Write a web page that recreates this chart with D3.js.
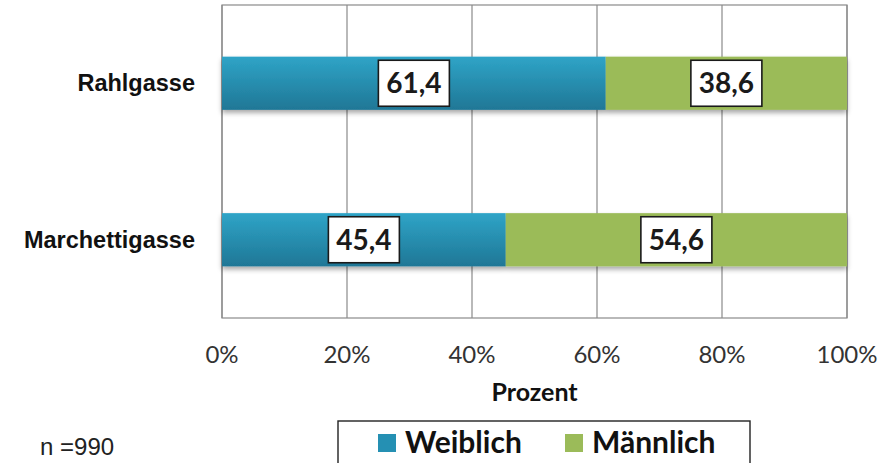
<!DOCTYPE html>
<html><head><meta charset="utf-8">
<script src="https://cdn.jsdelivr.net/npm/d3@7"></script>
<style>body{margin:0;background:#fff}svg{display:block}</style>
</head><body>
<svg id="c" width="895" height="463"></svg>
<script>
const categories = ["Rahlgasse", "Marchettigasse"];
const seriesNames = ["Weiblich", "Männlich"];
const weiblich = [61.4, 45.4];
const maennlich = [38.6, 54.6];
const xTicks = [0, 20, 40, 60, 80, 100];
const nLabel = "n =990";
const axisTitle = "Prozent";

const svg = d3.select("#c");
const W = 895, H = 463;
const m = {left: 222, right: 48, top: 5, bottom: 145};
const x = d3.scaleLinear().domain([0, 100]).range([m.left, W - m.right]);
const y = d3.scaleBand().domain(categories).range([m.top, H - m.bottom]).paddingInner(0.66).paddingOuter(0.33);

const defs = svg.append("defs");
const g1 = defs.append("linearGradient").attr("id", "gBlue").attr("x1", 0).attr("y1", 0).attr("x2", 0).attr("y2", 1);
g1.append("stop").attr("offset", "0%").attr("stop-color", "#2fa4c7");
g1.append("stop").attr("offset", "100%").attr("stop-color", "#1f7796");
const f = defs.append("filter").attr("id", "sh").attr("x", "-5%").attr("y", "-20%").attr("width", "110%").attr("height", "160%");
f.append("feDropShadow").attr("dx", 0).attr("dy", 3).attr("stdDeviation", 2.5).attr("flood-color", "#000").attr("flood-opacity", 0.35);

// grid
svg.append("g").selectAll("line").data(xTicks).join("line")
  .attr("x1", d => x(d)).attr("x2", d => x(d))
  .attr("y1", m.top).attr("y2", H - m.bottom)
  .attr("stroke", "#8a8a8a").attr("stroke-width", 1.2);
svg.append("rect").attr("x", x(0)).attr("y", m.top).attr("width", x(100) - x(0)).attr("height", H - m.bottom - m.top)
  .attr("fill", "none").attr("stroke", "#8a8a8a").attr("stroke-width", 1.2);

const stacked = categories.map((c, i) => ({c, segs: [
  {s: 0, x0: 0, x1: weiblich[i], v: weiblich[i]},
  {s: 1, x0: weiblich[i], x1: weiblich[i] + maennlich[i], v: maennlich[i]}
]}));
const fills = ["url(#gBlue)", "#9bbb59"];

const bars = svg.append("g");
stacked.forEach(d => {
  const grp = bars.append("g").attr("filter", "url(#sh)");
  grp.selectAll("rect").data(d.segs).join("rect")
    .attr("x", s => x(s.x0)).attr("width", s => x(s.x1) - x(s.x0))
    .attr("y", y(d.c)).attr("height", y.bandwidth())
    .attr("fill", s => fills[s.s]);
});
stacked.forEach(d => {
  d.segs.forEach(s => {
    const cx = (x(s.x0) + x(s.x1)) / 2, cy = y(d.c) + y.bandwidth() / 2;
    svg.append("rect").attr("x", cx - 35.5).attr("y", cy - 23).attr("width", 71).attr("height", 46)
      .attr("fill", "#fff").attr("stroke", "#1a1a1a").attr("stroke-width", 1.6);
    svg.append("text").attr("x", cx).attr("y", cy + 10).attr("text-anchor", "middle")
      .attr("font-family", "Lato, 'Open Sans', sans-serif").attr("font-weight", "bold").attr("font-size", 28)
      .attr("fill", "#1a1a1a").text(d3.format(".1f")(s.v).replace(".", ","));
  });
});

// category labels
svg.append("g").selectAll("text").data(categories).join("text")
  .attr("x", 195).attr("y", d => y(d) + y.bandwidth() / 2 + 8).attr("text-anchor", "end")
  .attr("font-family", "'Liberation Sans', Arial, sans-serif").attr("font-weight", "bold").attr("font-size", 23.5)
  .attr("fill", "#111").text(d => d);

// x tick labels
svg.append("g").selectAll("text").data(xTicks).join("text")
  .attr("x", d => x(d)).attr("y", 363).attr("text-anchor", "middle")
  .attr("font-family", "Lato, 'Open Sans', sans-serif").attr("font-size", 24).attr("fill", "#333")
  .text(d => d + "%");

svg.append("text").attr("x", (x(0) + x(100)) / 2).attr("y", 401).attr("text-anchor", "middle")
  .attr("font-family", "Lato, 'Open Sans', sans-serif").attr("font-weight", "bold").attr("font-size", 25)
  .attr("fill", "#111").text(axisTitle);

// legend
svg.append("rect").attr("x", 338).attr("y", 421).attr("width", 412).attr("height", 60)
  .attr("fill", "#fff").attr("stroke", "#222").attr("stroke-width", 1.4);
const legX = [378, 565];
const legColors = ["#2590b3", "#9bbb59"];
seriesNames.forEach((n, i) => {
  svg.append("rect").attr("x", legX[i]).attr("y", 434).attr("width", 18).attr("height", 18).attr("fill", legColors[i]);
  svg.append("text").attr("x", legX[i] + 27).attr("y", 453)
    .attr("font-family", "Lato, 'Open Sans', sans-serif").attr("font-weight", "bold").attr("font-size", 30)
    .attr("fill", "#111").text(n);
});

svg.append("text").attr("x", 40).attr("y", 455)
  .attr("font-family", "'Liberation Sans', Arial, sans-serif").attr("font-size", 24).attr("fill", "#222").text(nLabel);
</script>
</body></html>
